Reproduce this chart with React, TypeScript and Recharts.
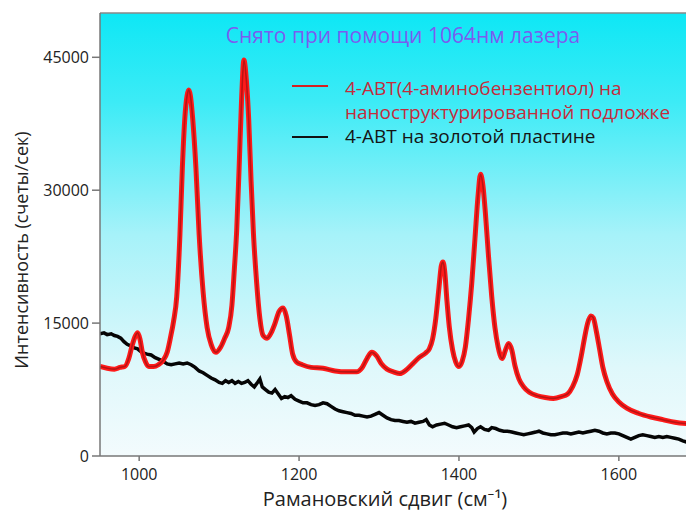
import React from 'react';
import { LineChart, Line, XAxis, YAxis, CartesianGrid, ReferenceLine, Label } from 'recharts';

// ---- Data ----
const xTicks = [1000, 1200, 1400, 1600];
const yTicks = [0, 15000, 30000, 45000];

const sersShift = [951, 960, 969, 976, 982, 987, 991, 995, 998, 1001, 1004, 1008, 1012, 1018, 1024, 1030, 1035, 1039, 1043, 1047, 1051, 1054, 1057, 1060, 1062, 1064, 1067, 1071, 1075, 1080, 1085, 1090, 1096, 1102, 1107, 1112, 1116, 1119, 1122, 1125, 1128, 1131, 1134, 1137, 1140, 1143, 1147, 1151, 1155, 1160, 1165, 1170, 1175, 1180, 1184, 1188, 1192, 1197, 1204, 1215, 1230, 1245, 1260, 1272, 1279, 1285, 1291, 1297, 1303, 1310, 1318, 1326, 1334, 1342, 1350, 1358, 1363, 1367, 1371, 1375, 1378, 1380, 1382, 1385, 1388, 1392, 1396, 1400, 1404, 1408, 1412, 1416, 1420, 1424, 1427, 1430, 1433, 1437, 1441, 1445, 1449, 1454, 1458, 1462, 1466, 1470, 1475, 1481, 1488, 1498, 1508, 1518, 1528, 1536, 1542, 1548, 1553, 1557, 1561, 1565, 1568, 1572, 1576, 1580, 1585, 1592, 1600, 1610, 1625, 1640, 1655, 1670, 1685, 1694];
const sersIntensity = [10100, 9900, 9800, 10000, 10100, 11000, 12400, 13500, 13900, 13200, 11700, 10600, 10100, 10100, 10300, 10800, 11700, 13300, 15200, 18000, 25000, 32500, 38000, 40700, 41300, 40700, 38000, 32500, 25000, 18500, 14500, 12600, 11700, 12300, 13300, 14500, 17000, 21000, 25500, 32500, 40000, 44700, 42500, 38000, 31000, 25000, 19500, 15500, 13600, 13300, 13900, 15000, 16300, 16700, 15800, 13700, 11500, 10600, 10300, 10000, 9900, 9600, 9500, 9500, 10000, 11000, 11700, 11300, 10400, 9800, 9500, 9300, 9700, 10400, 11100, 11600, 12100, 13200, 15500, 19000, 21500, 21900, 21000, 17500, 14500, 12000, 10600, 10100, 10700, 12300, 15500, 19500, 24500, 29500, 31800, 30500, 27500, 22500, 18000, 14500, 12300, 11000, 11900, 12700, 12000, 10200, 8700, 7800, 7200, 6800, 6600, 6500, 6700, 7000, 7800, 9200, 11300, 13300, 15000, 15800, 15600, 14000, 12000, 10000, 8400, 7000, 6100, 5400, 4800, 4400, 4100, 3800, 3650, 3600];

const goldShift = [951, 956, 960, 965, 969, 973, 977, 981, 985, 990, 994, 998, 1002, 1006, 1010, 1015, 1020, 1025, 1030, 1035, 1040, 1045, 1050, 1055, 1060, 1065, 1070, 1075, 1080, 1085, 1090, 1095, 1100, 1104, 1108, 1112, 1116, 1120, 1124, 1128, 1132, 1136, 1140, 1144, 1148, 1151, 1154, 1158, 1162, 1166, 1170, 1174, 1178, 1182, 1186, 1190, 1195, 1200, 1205, 1210, 1215, 1220, 1225, 1230, 1235, 1240, 1245, 1250, 1255, 1260, 1265, 1270, 1275, 1280, 1285, 1290, 1295, 1300, 1305, 1310, 1315, 1320, 1325, 1330, 1335, 1340, 1345, 1350, 1355, 1359, 1363, 1367, 1372, 1377, 1382, 1387, 1392, 1397, 1402, 1407, 1412, 1416, 1419, 1423, 1427, 1432, 1437, 1441, 1446, 1451, 1456, 1461, 1466, 1471, 1476, 1481, 1486, 1491, 1496, 1500, 1505, 1510, 1515, 1520, 1525, 1530, 1535, 1540, 1545, 1550, 1555, 1560, 1565, 1570, 1575, 1580, 1585, 1590, 1595, 1600, 1605, 1610, 1615, 1620, 1625, 1630, 1635, 1640, 1645, 1650, 1655, 1660, 1665, 1670, 1675, 1680, 1684, 1688, 1694];
const goldIntensity = [13800, 13900, 13700, 13800, 13600, 13500, 13300, 12900, 12600, 12400, 12200, 12100, 11800, 11600, 11500, 11400, 11100, 10900, 10700, 10400, 10300, 10400, 10500, 10400, 10500, 10300, 10000, 9600, 9400, 9100, 8800, 8600, 8300, 8200, 8500, 8300, 8500, 8200, 8400, 8200, 8300, 8500, 8100, 7800, 8300, 8700, 7800, 7500, 7200, 7100, 7500, 7000, 6500, 6700, 6600, 6800, 6400, 6200, 6000, 6000, 5800, 5700, 5800, 6000, 5900, 5600, 5300, 5100, 5000, 4900, 4800, 4600, 4600, 4500, 4400, 4500, 4700, 4900, 4600, 4300, 4100, 4000, 4000, 3900, 3800, 3900, 3700, 3800, 3900, 4100, 3500, 3300, 3500, 3600, 3700, 3500, 3300, 3200, 3300, 3400, 3500, 3200, 2700, 3100, 3300, 3000, 2900, 3200, 3100, 2900, 2800, 2800, 2700, 2600, 2500, 2400, 2500, 2600, 2700, 2800, 2600, 2500, 2400, 2400, 2500, 2600, 2600, 2500, 2600, 2700, 2600, 2700, 2800, 2900, 2800, 2600, 2500, 2600, 2600, 2500, 2300, 2100, 1900, 2100, 2300, 2400, 2300, 2200, 2100, 2200, 2100, 2200, 2100, 2000, 1900, 1700, 1600, 1800, 2000];

const titleText = 'Снято при помощи 1064нм лазера';
const sersNameLines = ['4-АВТ(4-аминобензентиол) на', 'наноструктурированной подложке'];
const goldName = '4-АВТ на золотой пластине';
const xLabel = 'Рамановский сдвиг (см⁻¹)';
const yLabel = 'Интенсивность (счеты/сек)';

const sersData = sersShift.map((x, i) => ({ x, y: sersIntensity[i] }));
const goldData = goldShift.map((x, i) => ({ x, y: goldIntensity[i] }));

const FONT = '"Open Sans", "Noto Sans", sans-serif';

const YLabelContent = () => {
  const cx = 13;
  const cy = 242;
  return (
    <text x={cx} y={cy} transform={`rotate(-90, ${cx}, ${cy})`} textAnchor="middle" dominantBaseline="central"
      fontSize={18} fill="#222" fontFamily={FONT}>{yLabel}</text>
  );
};

export default function App() {
  return (
    <div style={{ position: 'relative', width: 686, height: 503, fontFamily: FONT }}>
      <LineChart width={686} height={503} margin={{ top: 5, right: 0, left: 0, bottom: 0 }}>
        <defs>
          <linearGradient id="bgGrad" x1="0" y1="0" x2="0" y2="1">
            <stop offset="0" stopColor="#0ee7f5" />
            <stop offset="0.2" stopColor="#3cebf6" />
            <stop offset="0.5" stopColor="#a6f2f9" />
            <stop offset="0.8" stopColor="#dff8fb" />
            <stop offset="1" stopColor="#f3fbfd" />
          </linearGradient>
        </defs>
        <CartesianGrid horizontal={false} vertical={false} fill="url(#bgGrad)" />
        <XAxis dataKey="x" type="number" domain={[951, 1694]} ticks={xTicks} allowDataOverflow
          stroke="#777" strokeWidth={1.5} tickSize={5} tickMargin={8} height={55}
          tick={{ fontSize: 16, fill: '#222', fontFamily: FONT }}>
          <Label value={xLabel} position="insideBottom" offset={5} dx={-12} fontSize={20} fill="#222" fontFamily={FONT} />
        </XAxis>
        <YAxis type="number" domain={[0, 50000]} ticks={yTicks} allowDataOverflow width={92}
          stroke="#777" strokeWidth={1.5} tickSize={8} tickMargin={3}
          tick={{ fontSize: 16, fill: '#222', fontFamily: FONT }}>
          <Label content={YLabelContent} />
        </YAxis>
        <ReferenceLine y={50000} stroke="#888" strokeWidth={1.5} />
        <Line data={goldData} dataKey="y" name={goldName} type="linear" stroke="#050505" strokeWidth={3.5}
          dot={false} isAnimationActive={false} />
        <Line data={sersData} dataKey="y" name={sersNameLines.join(' ')} type="monotone" stroke="#ff1a1a" strokeWidth={5}
          dot={false} isAnimationActive={false} />
        <Line data={sersData} dataKey="y" type="monotone" stroke="#b81414" strokeWidth={1.6}
          dot={false} isAnimationActive={false} legendType="none" />
      </LineChart>
      <div style={{ position: 'absolute', left: 0, width: 790, top: 15, lineHeight: '24px', textAlign: 'center',
        color: '#7b5cf0', fontSize: 21, fontFamily: FONT, pointerEvents: 'none', whiteSpace: 'nowrap' }}>{titleText}</div>
      <div style={{ position: 'absolute', left: 284, top: 68, fontSize: 19, lineHeight: '24px', fontFamily: FONT,
        pointerEvents: 'none', whiteSpace: 'nowrap' }}>
        <div style={{ display: 'flex', alignItems: 'flex-start' }}>
          <div style={{ width: 36, height: 2, background: '#d42020', marginTop: 9, marginRight: 17, flex: 'none' }} />
          <div style={{ color: '#c42c3c' }}>
            <div style={{ height: 24 }}>{sersNameLines[0]}</div>
            <div style={{ height: 24 }}>{sersNameLines[1]}</div>
          </div>
        </div>
        <div style={{ display: 'flex', alignItems: 'flex-start' }}>
          <div style={{ width: 36, height: 2, background: '#111', marginTop: 12, marginRight: 17, flex: 'none' }} />
          <div style={{ color: '#151515', height: 24 }}>{goldName}</div>
        </div>
      </div>
    </div>
  );
}
